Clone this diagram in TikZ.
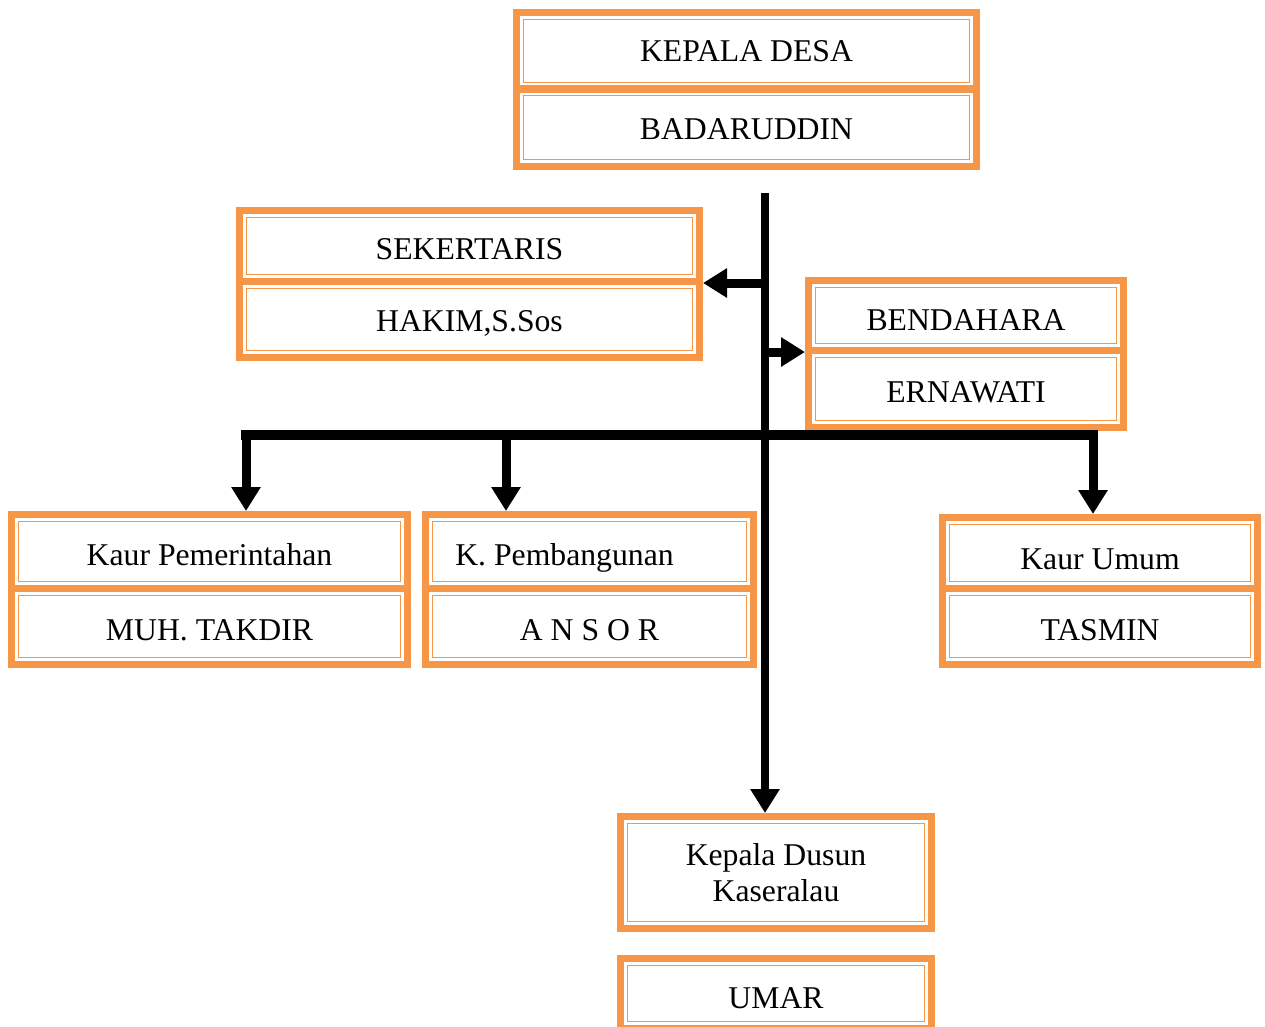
\documentclass[tikz,border=0pt]{standalone}
\usepackage{fontspec}
\setmainfont{Liberation Serif}
\usetikzlibrary{arrows.meta}
\definecolor{orf}{HTML}{F79646}
\newcommand\orgbox[7][]{%
  \pgfmathsetmacro\bcx{(#3+#5)/2}%
  \pgfmathsetmacro\bcy{(#4+#6)/2}%
  \pgfmathsetmacro\bww{#5-#3-7}%
  \pgfmathsetmacro\bhh{#6-#4-7}%
  \node[obx, minimum width=\bww pt, minimum height=\bhh pt, #1] (#2) at (\bcx,\bcy) {#7};
  \draw[thinb] ([shift={(10.5,10.5)}]#2.north west) rectangle ([shift={(-10.5,-10.5)}]#2.south east);
}
\begin{document}
\begin{tikzpicture}[x=1pt,y=-1pt,
  obx/.style={draw=orf, line width=7pt, inner sep=0pt, outer sep=3.5pt,
    font=\fontsize{31.7}{36.5}\selectfont, align=center,
    text height=27pt, text depth=0pt},
  thinb/.style={draw=orf, line width=1.8pt},
  ln/.style={line width=10pt, black, line cap=rect},
  arr/.style={line width=9pt, black, -{Triangle[length=24pt,width=28pt]}}]
\useasboundingbox (0,0) rectangle (1265,1026);
% boxes
\orgbox[text height=21pt]{kdesa}{513}{9}{980}{93}{KEPALA DESA}
\orgbox[text height=24pt]{badar}{513}{85}{980}{170}{BADARUDDIN}
\orgbox{sek}{236}{207}{703}{285}{SEKERTARIS}
\orgbox[text height=24pt]{hakim}{236}{278}{703}{361}{HAKIM,S.Sos}
\orgbox[text height=29pt]{bend}{805}{277}{1127}{354}{BENDAHARA}
\orgbox{ern}{805}{347}{1127}{431}{ERNAWATI}
\orgbox{kpem}{8}{511}{411}{592}{Kaur Pemerintahan}
\orgbox{takdir}{8}{585}{411}{668}{MUH. TAKDIR}
\orgbox{kpemb}{422}{511}{757}{592}{K. Pembangunan\hspace*{50pt}}
\orgbox{ansor}{422}{585}{757}{668}{A N S O R}
\orgbox[text height=33pt]{kumum}{939}{514}{1261}{592}{Kaur Umum}
\orgbox{tasmin}{939}{585}{1261}{668}{TASMIN}
\orgbox[text height={}, text depth={}]{dusun}{617}{813}{935}{932}{Kepala Dusun\\Kaseralau}
\orgbox[text height=29pt]{umar}{617}{955}{935}{1032}{UMAR}
% connectors
\coordinate (vt) at (765,193);
\coordinate (j1) at (765,283);
\coordinate (j2) at (765,352);
\coordinate (bl) at (246,435);
\coordinate (br) at (1093,435);
\coordinate (bm) at (506,435);
\draw[arr, line width=8.5pt] (vt) -- (vt |- dusun.north);
\draw[arr] (j1) -- (j1 -| sek.east);
\draw[arr] (j2) -- (j2 -| bend.west);
\draw[ln] (bl) -- (br);
\draw[arr] (bl) -- (bl |- kpem.north);
\draw[arr] (bm) -- (bm |- kpemb.north);
\draw[arr] (br) -- (br |- kumum.north);
\end{tikzpicture}
\end{document}
